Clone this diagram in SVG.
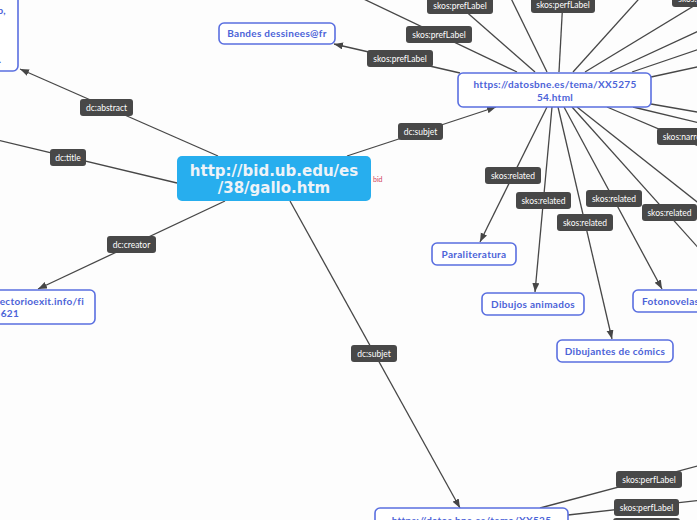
<svg xmlns="http://www.w3.org/2000/svg" width="697" height="520" viewBox="0 0 697 520">
<defs>
<marker id="arr" markerUnits="userSpaceOnUse" markerWidth="10" markerHeight="8" refX="9" refY="3.5" orient="auto"><path d="M0,0 L9,3.5 L0,7 z" fill="#464646"/></marker>
<style>
.e{stroke:#474747;stroke-width:1.3;fill:none}
.lb rect{fill:#484848}
.lb text{fill:#ffffff;font-family:Lato,"Noto Sans",sans-serif;font-size:8.5px;text-anchor:middle}
.n rect{fill:#ffffff;stroke:#5a6fe0;stroke-width:1.6}
.n text{fill:#4c63d8;font-family:Lato,"Noto Sans",sans-serif;font-weight:bold;font-size:10px;letter-spacing:0.3px;text-anchor:middle}
</style>
</defs>
<rect width="697" height="520" fill="#fdfdfd"/>
<g id="connectors">
<line class="e" x1="218" y1="156" x2="20" y2="69" marker-end="url(#arr)"/>
<line class="e" x1="177" y1="183" x2="-40" y2="131" marker-end="url(#arr)"/>
<line class="e" x1="225" y1="201" x2="38" y2="289" marker-end="url(#arr)"/>
<line class="e" x1="347" y1="156" x2="496" y2="107" marker-end="url(#arr)"/>
<line class="e" x1="290" y1="201" x2="460" y2="508" marker-end="url(#arr)"/>
<line class="e" x1="460" y1="73" x2="334" y2="44" marker-end="url(#arr)"/>
<line class="e" x1="517" y1="72" x2="330" y2="-17" marker-end="url(#arr)"/>
<line class="e" x1="535" y1="72" x2="430" y2="-20" marker-end="url(#arr)"/>
<line class="e" x1="547" y1="72" x2="502" y2="-20" marker-end="url(#arr)"/>
<line class="e" x1="559" y1="72" x2="564" y2="-20" marker-end="url(#arr)"/>
<line class="e" x1="573" y1="72" x2="656" y2="-20" marker-end="url(#arr)"/>
<line class="e" x1="585" y1="72" x2="720" y2="-10" marker-end="url(#arr)"/>
<line class="e" x1="610" y1="72" x2="720" y2="21" marker-end="url(#arr)"/>
<line class="e" x1="632" y1="72" x2="720" y2="42" marker-end="url(#arr)"/>
<line class="e" x1="651" y1="77" x2="720" y2="62" marker-end="url(#arr)"/>
<line class="e" x1="651" y1="104" x2="720" y2="116" marker-end="url(#arr)"/>
<line class="e" x1="633" y1="107" x2="720" y2="128" marker-end="url(#arr)"/>
<line class="e" x1="607" y1="107" x2="720" y2="155" marker-end="url(#arr)"/>
<line class="e" x1="577" y1="107" x2="720" y2="220" marker-end="url(#arr)"/>
<line class="e" x1="572" y1="107" x2="720" y2="272" marker-end="url(#arr)"/>
<line class="e" x1="547" y1="107" x2="480" y2="242" marker-end="url(#arr)"/>
<line class="e" x1="552" y1="107" x2="535" y2="292" marker-end="url(#arr)"/>
<line class="e" x1="558" y1="107" x2="612" y2="339" marker-end="url(#arr)"/>
<line class="e" x1="564" y1="107" x2="662" y2="289" marker-end="url(#arr)"/>
<line class="e" x1="540" y1="508" x2="720" y2="460" marker-end="url(#arr)"/>
<line class="e" x1="568" y1="515" x2="720" y2="498" marker-end="url(#arr)"/>
<g class="lb">
<rect x="80" y="99" width="53" height="17" rx="3"/><text x="106.5" y="110.5">dc:abstract</text>
<rect x="50" y="149" width="36" height="17" rx="3"/><text x="68" y="160.5">dc:title</text>
<rect x="107" y="236" width="49" height="17" rx="3"/><text x="131.5" y="247.5">dc:creator</text>
<rect x="398" y="123" width="45" height="17" rx="3"/><text x="420.5" y="134.5">dc:subjet</text>
<rect x="351" y="345" width="46" height="17" rx="3"/><text x="374" y="356.5">dc:subjet</text>
<rect x="367" y="50" width="66" height="17" rx="3"/><text x="400" y="61.5">skos:prefLabel</text>
<rect x="406" y="26" width="66" height="17" rx="3"/><text x="439" y="37.5">skos:prefLabel</text>
<rect x="427" y="-3" width="66" height="17" rx="3"/><text x="460" y="8.5">skos:prefLabel</text>
<rect x="531" y="-4" width="64" height="17" rx="3"/><text x="563" y="7.5">skos:perfLabel</text>
<rect x="672" y="-10" width="66" height="17" rx="3"/><text x="705" y="1.5">skos:perfLabel</text>
<rect x="657" y="128" width="64" height="17" rx="3"/><text x="689" y="139.5">skos:narrower</text>
<rect x="485" y="167" width="56" height="17" rx="3"/><text x="513" y="178.5">skos:related</text>
<rect x="516" y="192" width="55" height="17" rx="3"/><text x="543.5" y="203.5">skos:related</text>
<rect x="557" y="214" width="56" height="17" rx="3"/><text x="585" y="225.5">skos:related</text>
<rect x="586" y="190" width="56" height="17" rx="3"/><text x="614" y="201.5">skos:related</text>
<rect x="642" y="204" width="55" height="17" rx="3"/><text x="669.5" y="215.5">skos:related</text>
<rect x="616" y="471" width="66" height="17" rx="3"/><text x="649" y="482.5">skos:perfLabel</text>
<rect x="614" y="499" width="65" height="17" rx="3"/><text x="646.5" y="510.5">skos:perfLabel</text>
<rect x="613" y="518" width="67" height="17" rx="3"/>
</g>
</g>
<g id="node-center">
<rect x="177" y="156" width="194" height="45" rx="5" fill="#27aeee"/>
<text x="274" y="176" font-family="DejaVu Sans,sans-serif" font-weight="bold" font-size="15" fill="#eef3f8" text-anchor="middle">http://bid.ub.edu/es</text>
<text x="274" y="193" font-family="DejaVu Sans,sans-serif" font-weight="bold" font-size="15" fill="#eef3f8" text-anchor="middle">/38/gallo.htm</text>
<text x="373" y="182" font-family="Lato,sans-serif" font-size="7" fill="#d0405a">bid</text>
</g>
<g id="node-abstract" class="n">
<rect x="-100" y="-40" width="118" height="111" rx="5"/>
<text x="6" y="14" style="text-anchor:end">p,</text>
<text x="1.5" y="63" style="text-anchor:end">.</text>
</g>
<g id="node-creator" class="n">
<rect x="-100" y="290" width="195" height="34" rx="5"/>
<text x="84" y="305" style="text-anchor:end">http://www.directorioexit.info/fi</text>
<text x="19" y="317" style="text-anchor:end">cha5621</text>
</g>
<g id="node-bandes" class="n">
<rect x="219" y="23" width="116" height="21" rx="5"/>
<text x="277" y="37">Bandes dessinees@fr</text>
</g>
<g id="node-datosbne1" class="n">
<rect x="458" y="73" width="193" height="34" rx="5"/>
<text x="555" y="88">https://datosbne.es/tema/XX5275</text>
<text x="555" y="101">54.html</text>
</g>
<g id="node-paraliteratura" class="n">
<rect x="432" y="243" width="84" height="22" rx="5"/>
<text x="474" y="257.5">Paraliteratura</text>
</g>
<g id="node-dibujos" class="n">
<rect x="482" y="293" width="102" height="22" rx="5"/>
<text x="533" y="307.5">Dibujos animados</text>
</g>
<g id="node-dibujantes" class="n">
<rect x="557" y="340" width="116" height="22" rx="5"/>
<text x="615" y="354.5">Dibujantes de cómics</text>
</g>
<g id="node-fotonovelas" class="n">
<rect x="633" y="290" width="80" height="22" rx="5"/>
<text x="642" y="304.5" style="text-anchor:start">Fotonovelas</text>
</g>
<g id="node-datosbne2" class="n">
<rect x="375" y="508" width="193" height="34" rx="5"/>
<text x="471.5" y="524">https://datos.bne.es/tema/XX525</text>
</g>
</svg>
